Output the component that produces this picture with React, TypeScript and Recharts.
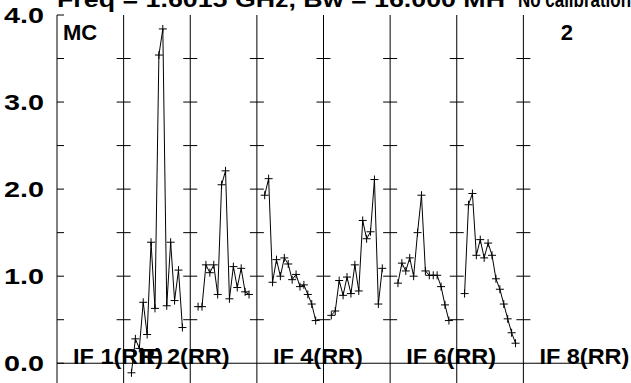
import React from "react";
import { LineChart, Line, XAxis, YAxis, ReferenceLine, ReferenceDot } from "recharts";

// each IF panel spans 17 channel slots, valid channels 2..15
const PANEL = 17;
const channels = [2, 3, 4, 5, 6, 7, 8, 9, 10, 11, 12, 13, 14, 15];
const ifLabels = ["IF 1(RR)", "IF 2(RR)", "", "IF 4(RR)", "", "IF 6(RR)", "", "IF 8(RR)"];

const if1: number[] = [];
const if2 = [-0.11, 0.28, 0.17, 0.7, 0.33, 1.39, 0.63, 3.54, 3.84, 0.66, 1.39, 0.72, 1.07, 0.41];
const if3 = [0.65, 0.65, 1.13, 1.04, 1.13, 0.79, 2.05, 2.21, 0.74, 1.11, 0.87, 1.09, 0.82, 0.79];
const if4 = [1.93, 2.12, 0.93, 1.19, 1.0, 1.21, 1.14, 0.96, 1.02, 0.88, 0.9, 0.79, 0.68, 0.49];
const if5 = [0.55, 0.6, 0.95, 0.78, 0.99, 0.8, 1.13, 0.83, 1.64, 1.43, 1.51, 2.11, 0.68, 1.09];
const if6 = [0.92, 1.15, 1.06, 1.21, 1.0, 1.5, 1.93, 1.06, 1.01, 1.01, 1.01, 0.88, 0.67, 0.49];
const if7 = [0.8, 1.82, 1.95, 1.24, 1.42, 1.21, 1.38, 1.24, 0.97, 0.85, 0.68, 0.51, 0.35, 0.23];
const if8: number[] = [];

const panels = [if1, if2, if3, if4, if5, if6, if7, if8];
const yTicks = [0, 0.5, 1, 1.5, 2, 2.5, 3, 3.5, 4];
const chanTicks = [5, 10, 15];

const rows: { x: number; amp: number | null }[] = [];
panels.forEach((vals, p) => {
  vals.forEach((v, i) => rows.push({ x: p * PANEL + channels[i], amp: v }));
  if (vals.length) rows.push({ x: p * PANEL + 16, amp: null });
});

const xMax = PANEL * panels.length;
const xTicks = panels.flatMap((_, p) => chanTicks.map((c) => p * PANEL + c));
const dividers = panels.map((_, p) => p * PANEL).filter((x) => x > 0);

const FONT = "'Liberation Sans', Arial, Helvetica, sans-serif";
const txt = { fontFamily: FONT, fontWeight: 700, fontSize: 22, fill: "#000" } as const;

const Plus = (props: any) => {
  const { cx, cy, index } = props;
  if (cx == null || cy == null || props.value == null) return <g key={index} />;
  return (
    <path
      key={index}
      d={`M${cx - 4},${cy}H${cx + 4}M${cx},${cy - 4}V${cy + 4}`}
      stroke="#000"
      strokeWidth={1}
    />
  );
};

const LeftTick = (props: any) => {
  const { x, y, payload } = props;
  const v = payload.value as number;
  return (
    <g>
      <line x1={x} x2={x + 7} y1={y} y2={y} stroke="#000" />
      {Number.isInteger(v) && (
        <text x={x - 13} y={y + 8} textAnchor="end" textLength={40} lengthAdjust="spacingAndGlyphs" style={txt}>
          {v.toFixed(1)}
        </text>
      )}
    </g>
  );
};

export default function App() {
  return (
    <div style={{ position: "absolute", left: 0, top: 0, width: 631, height: 383, overflow: "hidden", background: "#fff" }}>
      <svg width={631} height={383} style={{ position: "absolute", left: 0, top: 0 }}>
        <text x={57} y={7} textLength={448} lengthAdjust="spacingAndGlyphs" style={txt}>
          Freq = 1.6015 GHz, Bw = 16.000 MH
        </text>
        <text x={518} y={7} textLength={113} lengthAdjust="spacingAndGlyphs" style={txt}>
          No calibration
        </text>
        <text x={63} y={40} style={txt}>MC</text>
        <text x={573} y={40} textAnchor="end" style={txt}>2</text>
      </svg>
      <div style={{ position: "absolute", left: 0, top: 0 }}>
        <LineChart width={631} height={395} data={rows} margin={{ top: 15, right: 41, bottom: 10, left: 0 }}>
          <XAxis
            xAxisId="top"
            orientation="top"
            type="number"
            dataKey="x"
            domain={[0, xMax]}
            ticks={xTicks}
            tick={false}
            mirror
            height={0}
            tickSize={7}
            axisLine={{ stroke: "#000" }}
            tickLine={{ stroke: "#000" }}
          />
          <XAxis
            xAxisId="bottom"
            orientation="bottom"
            type="number"
            dataKey="x"
            domain={[0, xMax]}
            ticks={xTicks}
            tick={false}
            mirror
            height={0}
            tickSize={7}
            axisLine={{ stroke: "#000" }}
            tickLine={{ stroke: "#000" }}
          />
          <YAxis
            yAxisId="left"
            type="number"
            domain={[-0.25, 4]}
            ticks={yTicks}
            width={57}
            tickSize={0}
            tickMargin={0}
            tickLine={false}
            tick={<LeftTick />}
            axisLine={{ stroke: "#000" }}
            allowDataOverflow
          />
          <YAxis
            yAxisId="right"
            orientation="right"
            type="number"
            domain={[-0.25, 4]}
            ticks={yTicks}
            width={0}
            mirror
            tick={false}
            tickSize={8}
            axisLine={{ stroke: "#000" }}
            tickLine={{ stroke: "#000" }}
            allowDataOverflow
          />
          <ReferenceLine xAxisId="bottom" yAxisId="left" y={0} stroke="#000" />
          {dividers.map((d) => (
            <ReferenceLine key={`d${d}`} xAxisId="bottom" yAxisId="left" x={d} stroke="#000" />
          ))}
          {dividers.flatMap((d) =>
            yTicks.slice(1, -1).map((t) => (
              <ReferenceDot
                key={`t${d}-${t}`}
                xAxisId="bottom"
                yAxisId="left"
                x={d}
                y={t}
                r={0}
                shape={(p: any) => <line x1={p.cx - 7} x2={p.cx + 7} y1={p.cy} y2={p.cy} stroke="#000" />}
              />
            ))
          )}
          <Line
            xAxisId="bottom"
            yAxisId="left"
            type="linear"
            dataKey="amp"
            stroke="#000"
            strokeWidth={1}
            dot={Plus}
            activeDot={false}
            isAnimationActive={false}
            connectNulls={false}
          />
          {ifLabels.map((lab, p) =>
            lab ? (
              <ReferenceDot
                key={`l${p}`}
                xAxisId="bottom"
                yAxisId="left"
                x={p * PANEL}
                y={0}
                r={0}
                shape={(q: any) => (
                  <text x={q.cx + 16} y={q.cy + 1} textLength={90} lengthAdjust="spacingAndGlyphs" style={txt}>
                    {lab}
                  </text>
                )}
              />
            ) : null
          )}
        </LineChart>
      </div>
    </div>
  );
}
